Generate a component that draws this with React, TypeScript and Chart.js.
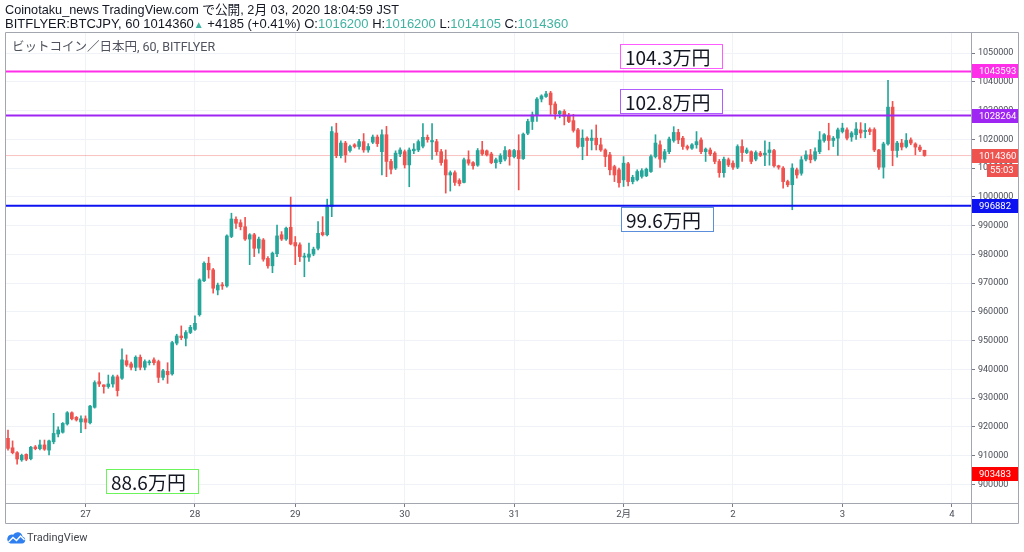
import React, { useEffect, useRef } from "react";
import { Chart, registerables } from "chart.js";

Chart.register(...registerables);

// ---- candle data (hourly, BTC/JPY bitFlyer) ----
const opens = [
  916000, 912700, 911000, 908500, 910400, 908900, 913000, 912400, 913700, 911900,
  914800, 917500, 918100, 921000, 924900, 923300, 921700, 922800, 921400, 926800,
  935700, 934600, 934000, 934900, 937400, 936900, 943000, 941900, 940700, 944200,
  940700, 942300, 943300, 942700, 937200, 939300, 938400, 949100, 951600, 950800,
  952800, 953900, 959000, 970800, 976900, 974600, 967600, 969400, 969000, 986200,
  992200, 991000, 989600, 985300, 986800, 982100, 985000, 978600, 976000, 980200,
  986800, 985300, 989400, 984100, 983300, 979000, 979000, 980100, 982100, 987600,
  986800, 996600, 1022200, 1014300, 1018700, 1016100, 1018100, 1017500, 1019200, 1016300,
  1019000, 1020800, 1015700, 1021600, 1012300, 1010000, 1014900, 1015700, 1011100, 1016000,
  1016300, 1017600, 1020700, 1019100, 1019200, 1015700, 1012900, 1007600, 1008400, 1005700,
  1005000, 1012900, 1011900, 1011000, 1016300, 1016000, 1014900, 1011900, 1012200, 1013100,
  1016100, 1014000, 1016100, 1013300, 1022100, 1026200, 1028500, 1034000, 1034900, 1036100,
  1032300, 1028900, 1029700, 1028000, 1026500, 1023300, 1017500, 1020400, 1019600, 1020400,
  1018100, 1016300, 1014600, 1010500, 1009400, 1005900, 1011500, 1005300, 1005900, 1007100,
  1007300, 1008800, 1014000, 1018100, 1013100, 1015700, 1019600, 1022400, 1020400, 1017500,
  1016900, 1018100, 1019800, 1015700, 1016300, 1015200, 1012300, 1008400, 1012900, 1011700,
  1010300, 1017500, 1015400, 1015700, 1013100, 1015200, 1014600, 1015400, 1016100, 1010800,
  1010000, 1005300, 1004200, 1009400, 1008200, 1013100, 1014600, 1013100, 1015700, 1019600,
  1021300, 1019600, 1020400, 1022700, 1023300, 1020800, 1021600, 1023300, 1022700, 1023400,
  1023400, 1016300, 1010300, 1018400, 1031200, 1016100, 1018700, 1017500, 1019800, 1018400,
  1017300, 1016200,
];
const highs = [
  918900, 915100, 911400, 910500, 910600, 913200, 913500, 915400, 915400, 915400,
  924700, 920000, 921500, 925300, 925200, 923600, 923800, 923800, 927500, 936000,
  938800, 934600, 938000, 938000, 938000, 947100, 945000, 942500, 944700, 945000,
  943300, 943200, 944000, 943200, 940000, 942300, 949700, 952200, 955100, 953500,
  955300, 958600, 971500, 977400, 979000, 975100, 970000, 970200, 986800, 994300,
  993000, 992000, 992900, 987200, 987300, 986000, 985500, 979200, 980800, 990200,
  987900, 989500, 999900, 986200, 984000, 980400, 983900, 982500, 991400, 993100,
  999200, 1024400, 1025600, 1019500, 1019300, 1018000, 1018500, 1020000, 1022000, 1018500,
  1021500, 1021500, 1023300, 1024500, 1013000, 1016000, 1017000, 1016300, 1017000, 1018500,
  1019800, 1025500, 1021500, 1025500, 1020000, 1016500, 1016300, 1009000, 1009000, 1006300,
  1013500, 1016000, 1012300, 1016800, 1019300, 1016300, 1015500, 1013500, 1015000, 1017500,
  1016500, 1016500, 1021600, 1022200, 1027000, 1029500, 1034500, 1035500, 1036700, 1036700,
  1033000, 1030000, 1030300, 1029000, 1028700, 1023800, 1023300, 1020900, 1023300, 1025000,
  1020400, 1016700, 1015500, 1011000, 1010000, 1014000, 1012000, 1007500, 1009400, 1009800,
  1010000, 1014600, 1021600, 1019500, 1016500, 1020800, 1024400, 1023500, 1021000, 1018000,
  1018500, 1022700, 1020500, 1017000, 1017000, 1015700, 1013000, 1013800, 1013500, 1012500,
  1018100, 1019800, 1017000, 1016000, 1016000, 1015800, 1019500, 1019000, 1016500, 1011000,
  1010500, 1005800, 1011500, 1010000, 1014000, 1016000, 1016500, 1017000, 1022700, 1022000,
  1025600, 1021000, 1023900, 1025600, 1024000, 1022700, 1025800, 1025800, 1025500, 1024000,
  1024000, 1016500, 1019000, 1040500, 1033200, 1019300, 1020000, 1022000, 1020500, 1018800,
  1018000, 1016200,
];
const lows = [
  911900, 910600, 907000, 908000, 908200, 908500, 912000, 912000, 911800, 910200,
  914100, 916500, 917800, 920600, 922400, 922000, 918000, 919300, 921000, 926500,
  934000, 931700, 933400, 933800, 930700, 936500, 941000, 939800, 939500, 939800,
  939800, 941500, 941500, 935400, 936300, 935100, 938000, 948500, 950300, 948100,
  952400, 953500, 958500, 970500, 971700, 966500, 965900, 967800, 968600, 985800,
  989000, 988500, 984800, 976400, 979200, 980400, 977600, 975200, 973600, 979200,
  984800, 984800, 983300, 976400, 977500, 972200, 977500, 979500, 981500, 986400,
  986400, 993100, 1013600, 1013500, 1012000, 1015500, 1017000, 1016600, 1015500, 1015500,
  1018500, 1017500, 1007600, 1007000, 1008000, 1009500, 1014000, 1010000, 1003500, 1015000,
  1015700, 1017000, 1019000, 1013000, 1014500, 1011000, 1001300, 1002000, 1004000, 1003800,
  1004800, 1011000, 1009600, 1010600, 1014400, 1014200, 1011500, 1010000, 1011500, 1012500,
  1011000, 1013500, 1002400, 1013000, 1021600, 1023400, 1026200, 1033000, 1034600, 1028700,
  1027000, 1027500, 1025000, 1025800, 1022500, 1017000, 1012900, 1014300, 1016300, 1016300,
  1015800, 1010500, 1007600, 1005300, 1003400, 1003600, 1003800, 1004500, 1005500, 1006500,
  1007000, 1008500, 1013500, 1010200, 1012000, 1015000, 1019000, 1018500, 1016500, 1016300,
  1016500, 1016900, 1015000, 1012300, 1014300, 1011500, 1006800, 1006800, 1010500, 1009500,
  1009800, 1012300, 1015000, 1011500, 1012500, 1014000, 1010800, 1011000, 1010300, 1009600,
  1003000, 1003500, 995500, 1006500, 1007500, 1012500, 1011800, 1012500, 1015000, 1019000,
  1016300, 1017500, 1014400, 1022200, 1019800, 1019300, 1020000, 1020500, 1020500, 1021600,
  1015700, 1009500, 1006500, 1018000, 1010800, 1013800, 1016300, 1017000, 1018100, 1014600,
  1015700, 1014105,
];
const closes = [
  912500, 911000, 908800, 910100, 908700, 912900, 912400, 913700, 912200, 915100,
  917700, 918900, 921200, 924900, 922800, 922400, 922800, 921600, 927200, 935400,
  934900, 934000, 934900, 937400, 932600, 943300, 941500, 940700, 944200, 940700,
  942700, 942600, 942300, 937200, 939500, 938100, 949300, 951600, 951000, 952800,
  954600, 956000, 971100, 976900, 974600, 968200, 969300, 969000, 986400, 992300,
  990800, 989600, 985300, 986800, 982100, 985300, 978300, 976000, 980400, 986400,
  985300, 989100, 983600, 982900, 979200, 979400, 980100, 981800, 987300, 986800,
  996600, 1022700, 1014300, 1018700, 1014600, 1017500, 1017500, 1019200, 1016300, 1017500,
  1020800, 1018500, 1021600, 1012300, 1009600, 1015200, 1016300, 1011100, 1016300, 1016600,
  1019200, 1020700, 1019900, 1019600, 1015700, 1011900, 1007600, 1008400, 1005000, 1004600,
  1012900, 1011700, 1010800, 1016100, 1014900, 1014600, 1011900, 1012900, 1014300, 1016100,
  1014000, 1016100, 1013300, 1021800, 1026200, 1028500, 1034000, 1035100, 1035800, 1032000,
  1028900, 1029700, 1028000, 1026200, 1023100, 1017500, 1020400, 1019600, 1020400, 1018100,
  1016300, 1014000, 1009400, 1007600, 1004900, 1011700, 1005300, 1006800, 1008800, 1009100,
  1009600, 1014000, 1018700, 1013100, 1015700, 1020100, 1022400, 1019800, 1017500, 1016900,
  1018100, 1019200, 1015700, 1016600, 1014900, 1012300, 1008400, 1013100, 1011100, 1010300,
  1017500, 1015400, 1016300, 1012300, 1015400, 1014400, 1015200, 1016300, 1010800, 1010300,
  1005300, 1004200, 1010000, 1007600, 1012900, 1014600, 1012900, 1015700, 1019800, 1021600,
  1019600, 1020400, 1023300, 1023900, 1020400, 1022200, 1023600, 1022200, 1023100, 1022700,
  1016300, 1010300, 1018400, 1031200, 1016100, 1018700, 1017300, 1019600, 1018700, 1017300,
  1016300, 1014360,
];

// ---- axes ----
const dayTickIndex = [17, 41, 63, 87, 111, 135, 159, 183, 207];
const dayTickLabels = ["27", "28", "29", "30", "31", "2月", "2", "3", "4"];
const priceTicks = [
  900000, 910000, 920000, 930000, 940000, 950000, 960000, 970000,
  980000, 990000, 1000000, 1010000, 1020000, 1030000, 1040000, 1050000,
];
const X_MIN = -0.66;
const X_MAX = 211.2;
const Y_MIN = 893500;
const Y_MAX = 1057330;

// ---- horizontal levels ----
const levelValues = [1043593, 1028264, 996882];
const levelColors = ["#ff2ee8", "#9f26f2", "#0d12f0"];
const lastPrice = 1014360;
const lastPriceColor = "#ef5350";
const countdownText = "55:03";
const lowMarkValue = 903483;
const lowMarkColor = "#ff0000";

// ---- text notes ----
const noteTexts = ["104.3万円", "102.8万円", "99.6万円", "88.6万円"];
const noteAnchorIndex = [134.2, 134.2, 134.4, 21.5];
const noteAnchorPrice = [1043593, 1028264, 996882, 905700];
const noteAnchorSide = ["bottom", "bottom", "top", "top"];
const noteBorderColors = ["#ff5cff", "#b15cff", "#5b8fdc", "#6cf55a"];

// ---- header texts ----
const headerLine1 = "Coinotaku_news TradingView.com で公開, 2月 03, 2020 18:04:59 JST";
const symbolText = "BITFLYER:BTCJPY, 60 1014360";
const changeText = " +4185 (+0.41%)";
const ohlcLabels = ["O:", "H:", "L:", "C:"];
const ohlcValues = ["1016200", "1016200", "1014105", "1014360"];
const paneTitle = "ビットコイン／日本円, 60, BITFLYER";

const UP = "#26a69a";
const DOWN = "#ef5350";
const TEAL_TEXT = "#3fb3a0";
const GRID = "#eff2f6";
const FRAME = "#a3a6af";
const AXIS_TEXT = "#4a4d57";
const FONT = 'Roboto, "Noto Sans CJK JP", sans-serif';
const HEAD_FONT = '"Liberation Sans", Arial, "Noto Sans CJK JP", sans-serif';

const overlayPlugin = {
  id: "tvOverlay",
  afterDraw(chart: any) {
    const { ctx, chartArea, scales } = chart;
    const xs = scales.x;
    const ys = scales.y;
    const L = chartArea.left;
    const R = chartArea.right;
    const T = chartArea.top;
    const B = chartArea.bottom;
    const axisR = R + ys.width;
    const axisB = B + xs.height;
    ctx.save();
    // frame
    ctx.strokeStyle = FRAME;
    ctx.lineWidth = 1;
    ctx.beginPath();
    ctx.rect(Math.round(L) + 0.5, Math.round(T) + 0.5, Math.round(axisR - L) - 1, Math.round(axisB - T) - 1);
    ctx.moveTo(Math.round(R) + 0.5, T);
    ctx.lineTo(Math.round(R) + 0.5, axisB);
    ctx.moveTo(L, Math.round(B) + 0.5);
    ctx.lineTo(axisR, Math.round(B) + 0.5);
    ctx.stroke();

    // axis tags
    ctx.font = "9.5px " + FONT;
    ctx.textBaseline = "middle";
    ctx.textAlign = "left";
    const tag = (value: number, color: string) => {
      const py = Math.round(ys.getPixelForValue(value));
      ctx.fillStyle = color;
      ctx.fillRect(Math.round(R) + 1, py - 7, axisR - R - 2, 14);
      ctx.fillStyle = "#ffffff";
      ctx.fillText(String(value), R + 8, py + 0.5);
      return py;
    };
    levelValues.forEach((v, k) => tag(v, levelColors[k]));
    const lpY = tag(lastPrice, lastPriceColor);
    ctx.fillStyle = lastPriceColor;
    ctx.fillRect(Math.round(R) + 16, lpY + 8, axisR - R - 17, 13);
    ctx.fillStyle = "#ffffff";
    ctx.fillText(countdownText, R + 19, lpY + 14.5);
    tag(lowMarkValue, lowMarkColor);

    // note boxes
    ctx.font = '19px "Noto Sans CJK JP", sans-serif';
    noteTexts.forEach((t, k) => {
      const px = Math.round(xs.getPixelForValue(noteAnchorIndex[k]));
      const py = Math.round(ys.getPixelForValue(noteAnchorPrice[k]));
      const w = Math.round(ctx.measureText(t).width) + 18;
      const h = 25;
      const top = noteAnchorSide[k] === "bottom" ? py - 2 - h : py + 1;
      ctx.fillStyle = "#ffffff";
      ctx.fillRect(px, top, w, h);
      ctx.strokeStyle = noteBorderColors[k];
      ctx.lineWidth = 1;
      ctx.strokeRect(px + 0.5, top + 0.5, w - 1, h - 1);
      ctx.fillStyle = "#131722";
      ctx.textBaseline = "middle";
      ctx.fillText(t, px + 5, top + h / 2 + 1);
    });
    ctx.restore();
  },
};

export default function App() {
  const canvasRef = useRef<HTMLCanvasElement | null>(null);

  useEffect(() => {
    const canvas = canvasRef.current;
    if (!canvas) return;
    const idx = opens.map((_, i) => i);
    const candleColors = idx.map((i) => (closes[i] >= opens[i] ? UP : DOWN));
    const bodies = idx.map((i) => ({
      x: i,
      y: [Math.min(opens[i], closes[i]), Math.max(opens[i], closes[i])],
    }));
    const wicks = idx.map((i) => ({ x: i, y: [lows[i], highs[i]] }));

    const levelSets = levelValues.map((v, k) => ({
      type: "line" as const,
      data: [
        { x: X_MIN, y: v },
        { x: X_MAX, y: v },
      ],
      borderColor: levelColors[k],
      borderWidth: 2,
      pointRadius: 0,
      order: -1,
    }));

    const chart = new Chart(canvas, {
      type: "bar",
      data: {
        datasets: [
          ...levelSets,
          {
            type: "line" as const,
            data: [
              { x: X_MIN, y: lastPrice },
              { x: X_MAX, y: lastPrice },
            ],
            borderColor: "rgba(239,83,80,0.35)",
            borderWidth: 1,
            pointRadius: 0,
            order: 5,
          },
          {
            type: "bar" as const,
            data: bodies as any,
            backgroundColor: candleColors,
            borderWidth: 0,
            barThickness: 3,
            minBarLength: 1,
            grouped: false,
            order: 1,
          },
          {
            type: "bar" as const,
            data: wicks as any,
            backgroundColor: candleColors,
            borderWidth: 0,
            barThickness: 1,
            grouped: false,
            order: 2,
          },
        ] as any,
      },
      options: {
        responsive: false,
        animation: false,
        events: [],
        layout: { padding: { left: 5, top: 32, right: 5, bottom: 28 } },
        plugins: {
          legend: { display: false },
          tooltip: { enabled: false },
        },
        scales: {
          x: {
            type: "linear",
            position: "bottom",
            offset: false,
            min: X_MIN,
            max: X_MAX,
            grid: { color: GRID, tickLength: 4, tickColor: "#787b86", offset: false },
            border: { display: true, color: FRAME },
            ticks: {
              autoSkip: false,
              maxRotation: 0,
              padding: 2,
              color: AXIS_TEXT,
              font: { family: FONT, size: 9.5 },
              callback: (_v: any, i: number) => dayTickLabels[i] ?? "",
            },
            afterBuildTicks: (s: any) => {
              s.ticks = dayTickIndex.map((v) => ({ value: v }));
            },
            afterFit: (s: any) => {
              s.height = 21;
            },
          },
          y: {
            type: "linear",
            position: "right",
            min: Y_MIN,
            max: Y_MAX,
            grid: { color: GRID, tickLength: 4, tickColor: "#787b86" },
            border: { display: true, color: FRAME },
            ticks: {
              padding: 3,
              color: AXIS_TEXT,
              font: { family: FONT, size: 9 },
              callback: (v: any) => String(v),
            },
            afterBuildTicks: (s: any) => {
              s.ticks = priceTicks.map((v) => ({ value: v }));
            },
            afterFit: (s: any) => {
              s.width = 48;
            },
          },
        },
      } as any,
      plugins: [overlayPlugin],
    });
    return () => chart.destroy();
  }, []);

  return (
    <div
      style={{
        position: "fixed",
        left: 0,
        top: 0,
        width: 1024,
        height: 552,
        background: "#ffffff",
        overflow: "hidden",
        fontFamily: FONT,
      }}
    >
      <canvas
        ref={canvasRef}
        width={1024}
        height={552}
        style={{ position: "absolute", left: 0, top: 0, width: 1024, height: 552 }}
      />
      <div
        style={{
          position: "absolute",
          left: 5,
          top: 3,
          fontSize: 12.7,
          lineHeight: "14px",
          color: "#131722",
          whiteSpace: "nowrap",
          fontFamily: HEAD_FONT,
        }}
      >
        {headerLine1}
      </div>
      <div
        style={{
          position: "absolute",
          left: 5,
          top: 17,
          fontSize: 13,
          lineHeight: "14px",
          color: "#131722",
          whiteSpace: "nowrap",
          fontFamily: HEAD_FONT,
        }}
      >
        {symbolText}
        <span style={{ color: TEAL_TEXT, fontSize: 10 }}>▲</span>
        {changeText}
        {ohlcLabels.map((l, k) => (
          <span key={l}>
            {" " + l}
            <span style={{ color: TEAL_TEXT }}>{ohlcValues[k]}</span>
          </span>
        ))}
      </div>
      <div
        style={{
          position: "absolute",
          left: 12,
          top: 40,
          fontSize: 12.5,
          lineHeight: "14px",
          color: "#50535e",
          whiteSpace: "nowrap",
        }}
      >
        {paneTitle}
      </div>
      <div style={{ position: "absolute", left: 7, top: 531, width: 80, height: 14 }}>
        <svg width="19" height="13" viewBox="0 0 19 13" style={{ position: "absolute", left: 0, top: 0 }}>
          <path
            d="M3.5 12.5 H15 A3.5 3.5 0 0 0 15.5 5.6 A5 5 0 0 0 6.2 3.8 A4.2 4.2 0 0 0 3.5 12.5 Z"
            fill="#2f7ff0"
          />
          <polyline points="1.5,11 6,6.5 9.5,9.5 13.5,5 17.5,9" fill="none" stroke="#ffffff" strokeWidth="1.4" />
        </svg>
        <div
          style={{
            position: "absolute",
            left: 20,
            top: 0,
            fontSize: 11,
            lineHeight: "14px",
            color: "#42454d",
            whiteSpace: "nowrap",
          }}
        >
          TradingView
        </div>
      </div>
    </div>
  );
}
